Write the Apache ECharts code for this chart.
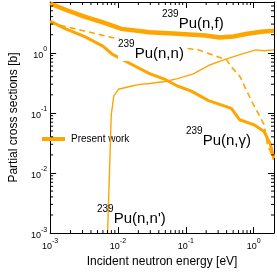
<!DOCTYPE html>
<html>
<head>
<meta charset="utf-8">
<script src="https://cdn.jsdelivr.net/npm/echarts@6/dist/echarts.min.js"></script>
<style>
html,body{margin:0;padding:0;background:#fff;}
#chart{width:277px;height:273px;}
</style>
</head>
<body>
<div id="chart"></div>
<script>
// ---- data ----
const fissionE = [0.001, 0.00169, 0.0032, 0.006, 0.0113, 0.0292, 0.0755, 0.195, 0.314, 0.505, 0.81, 1.30, 2.0];
const fissionV = [6.6, 5.2, 4.0, 3.2, 2.5, 2.2, 2.08, 1.94, 1.80, 1.87, 2.08, 2.24, 2.33];

const elasticE = [0.001, 0.0141, 0.152, 0.395, 0.475, 0.63, 0.96, 1.43, 1.59, 1.97];
const elasticV = [3.15, 1.55, 1.12, 0.77, 0.576, 0.40, 0.148, 0.064, 0.031, 0.0164];

const captureE = [0.001, 0.00169, 0.00318, 0.006, 0.0082, 0.0141, 0.0292, 0.0497, 0.0754, 0.121, 0.217, 0.47, 0.62, 1.0, 1.43, 1.77, 2.0];
const captureV = [3.36, 2.5, 1.87, 1.29, 0.95, 0.69, 0.45, 0.36, 0.28, 0.23, 0.16, 0.119, 0.077, 0.064, 0.049, 0.030, 0.0176];

const inelasticE = [0.00703, 0.0074, 0.00796, 0.00867, 0.01017, 0.0155, 0.0211, 0.0292, 0.0497, 0.0754, 0.129, 0.22, 0.37, 0.63, 1.08, 1.43, 2.0];
const inelasticV = [0.001, 0.0063, 0.092, 0.19, 0.247, 0.277, 0.298, 0.309, 0.333, 0.371, 0.446, 0.62, 0.77, 0.93, 1.12, 1.08, 1.12];

const xMin = 0.001, xMax = 2;
const yMin = 0.001, yMax = 7;
const xMinorTicks = [];
const yMinorTicks = [];
[0.001, 0.01, 0.1, 1].forEach(d => { for (let k = 2; k <= 9; k++) { const v = +(d * k).toPrecision(3); if (v < xMax) xMinorTicks.push(v); } });
[0.001, 0.01, 0.1, 1].forEach(d => { for (let k = 2; k <= 9; k++) { const v = +(d * k).toPrecision(3); if (v < yMax) yMinorTicks.push(v); } });

const xTitle = 'Incident neutron energy [eV]';
const yTitle = 'Partial cross sections [b]';
const legendName = 'Present work';
const annotations = [
  {iso: '239', text: 'Pu(n,f)'},
  {iso: '239', text: 'Pu(n,n)'},
  {iso: '239', text: 'Pu(n,γ)'},
  {iso: '239', text: "Pu(n,n')"}
];

// ---- chart ----
const ORANGE = '#ffa500';
const FONT = '"Liberation Sans", Arial, sans-serif';
const zip = (a, b) => a.map((v, i) => [v, b[i]]);

const tickLabel = {
  fontFamily: FONT,
  color: '#000',
  formatter: v => '{b|10}{s|' + Math.round(Math.log10(v)) + '}',
  rich: {
    b: {fontSize: 9, fontFamily: FONT, color: '#000', lineHeight: 14, verticalAlign: 'bottom'},
    s: {fontSize: 7, fontFamily: FONT, color: '#000', lineHeight: 14, verticalAlign: 'top'}
  }
};

const chart = echarts.init(document.getElementById('chart'), null, {renderer: 'canvas'});

function annText(a, x, y, bg) {
  return {
    type: 'text', x: x, y: y, z: 100,
    style: {
      text: '{s|' + a.iso + '}{m|' + a.text + '}',
      verticalAlign: 'middle',
      backgroundColor: bg ? '#fff' : null,
      rich: {
        s: {fontSize: 10, fontFamily: FONT, fill: '#000', lineHeight: 22, verticalAlign: 'top'},
        m: {fontSize: 15, fontFamily: FONT, fill: '#000', lineHeight: 22, verticalAlign: 'bottom'}
      }
    }
  };
}

const option = {
  animation: false,
  backgroundColor: '#fff',
  grid: {left: 34, right: 3, top: 2, bottom: 30, containLabel: false},
  legend: {
    data: [legendName],
    left: 37, top: 129,
    itemWidth: 23, itemHeight: 4,
    icon: 'rect',
    itemGap: 5,
    textStyle: {fontSize: 10, fontFamily: FONT, color: '#000', padding: [0, 0, 0, 1]},
    selectedMode: false
  },
  xAxis: [
    {
      type: 'log', min: xMin, max: xMax, logBase: 10,
      name: xTitle, nameLocation: 'middle', nameGap: 21,
      nameTextStyle: {fontSize: 12, fontFamily: FONT, color: '#000'},
      axisLine: {show: true, lineStyle: {color: '#000', width: 1}},
      axisTick: {show: true, inside: true, length: 6, lineStyle: {color: '#000'}},
      axisLabel: Object.assign({margin: 4, showMaxLabel: false}, tickLabel),
      splitLine: {show: false}
    },
    {
      type: 'log', min: xMin, max: xMax, logBase: 10, position: 'top',
      axisLine: {show: true, lineStyle: {color: '#000', width: 1}},
      axisTick: {show: true, inside: true, length: 6, lineStyle: {color: '#000'}},
      axisLabel: {show: false},
      splitLine: {show: false}
    }
  ],
  yAxis: [
    {
      type: 'log', min: yMin, max: yMax, logBase: 10,
      name: yTitle, nameLocation: 'middle', nameGap: 21, nameRotate: 90,
      nameTextStyle: {fontSize: 12, fontFamily: FONT, color: '#000'},
      axisLine: {show: true, lineStyle: {color: '#000', width: 1}},
      axisTick: {show: true, inside: true, length: 6, lineStyle: {color: '#000'}},
      axisLabel: Object.assign({margin: 3, showMaxLabel: false}, tickLabel),
      splitLine: {show: false}
    },
    {
      type: 'log', min: yMin, max: yMax, logBase: 10, position: 'right',
      axisLine: {show: true, lineStyle: {color: '#000', width: 1}},
      axisTick: {show: true, inside: true, length: 6, lineStyle: {color: '#000'}},
      axisLabel: {show: false},
      splitLine: {show: false}
    }
  ],
  series: [
    {
      name: legendName, type: 'line', data: zip(fissionE, fissionV),
      showSymbol: false, symbol: 'none', lineStyle: {color: ORANGE, width: 4.5}, itemStyle: {color: ORANGE}, z: 5
    },
    {
      name: 'elastic', type: 'line', data: zip(elasticE, elasticV),
      showSymbol: false, symbol: 'none', lineStyle: {color: ORANGE, width: 1.6, type: [6, 4]}, z: 4
    },
    {
      name: 'capture', type: 'line', data: zip(captureE, captureV),
      showSymbol: false, symbol: 'none', lineStyle: {color: ORANGE, width: 3}, z: 5
    },
    {
      name: 'inelastic', type: 'line', data: zip(inelasticE, inelasticV),
      showSymbol: false, symbol: 'none', lineStyle: {color: ORANGE, width: 1.4}, z: 4
    },
    {
      name: 'xminor', type: 'custom', data: xMinorTicks.map(v => [v]), silent: true, z: 10,
      encode: {x: 0},
      renderItem: (params, api) => {
        const v = api.value(0);
        const b = api.coord([v, yMin]);
        const t = api.coord([v, yMax]);
        return {type: 'group', children: [
          {type: 'line', shape: {x1: b[0], y1: b[1], x2: b[0], y2: b[1] - 3}, style: {stroke: '#000', lineWidth: 1}},
          {type: 'line', shape: {x1: t[0], y1: t[1], x2: t[0], y2: t[1] + 3}, style: {stroke: '#000', lineWidth: 1}}
        ]};
      }
    },
    {
      name: 'yminor', type: 'custom', data: yMinorTicks.map(v => [xMin, v]), silent: true, z: 10,
      encode: {x: 0, y: 1},
      renderItem: (params, api) => {
        const v = api.value(1);
        const l = api.coord([xMin, v]);
        const r = api.coord([xMax, v]);
        return {type: 'group', children: [
          {type: 'line', shape: {x1: l[0], y1: l[1], x2: l[0] + 3, y2: l[1]}, style: {stroke: '#000', lineWidth: 1}},
          {type: 'line', shape: {x1: r[0], y1: r[1], x2: r[0] - 3, y2: r[1]}, style: {stroke: '#000', lineWidth: 1}}
        ]};
      }
    }
  ],
  graphic: [
    annText(annotations[0], 162, 20, false),
    annText(annotations[1], 118, 50, true),
    annText(annotations[2], 186, 137, false),
    annText(annotations[3], 97, 215, false)
  ]
};
chart.setOption(option);
</script>
</body>
</html>
